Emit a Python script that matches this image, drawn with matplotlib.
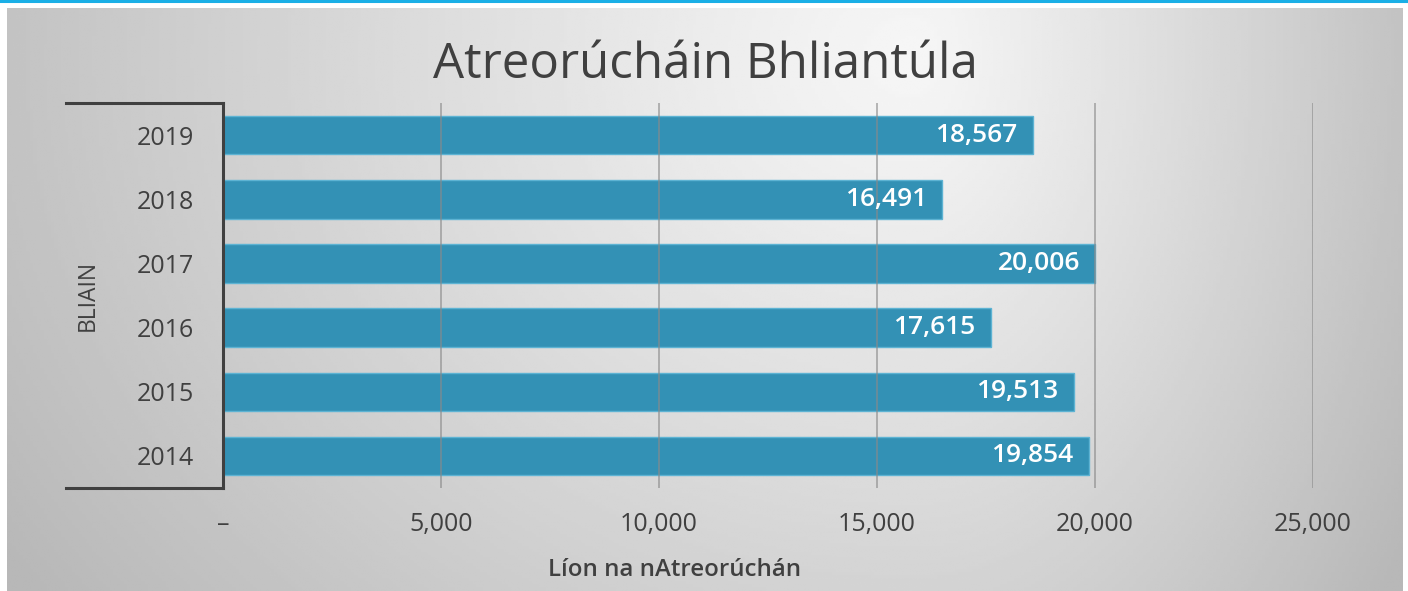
import numpy as np
import matplotlib.pyplot as plt
from matplotlib.lines import Line2D

years = ["2014", "2015", "2016", "2017", "2018", "2019"]
counts = [19854, 19513, 17615, 20006, 16491, 18567]
xticks = [0, 5000, 10000, 15000, 20000, 25000]
xticklabels = ["–", "5,000", "10,000", "15,000", "20,000", "25,000"]

plt.rcParams['font.family'] = ['Open Sans', 'DejaVu Sans']
W, H = 1408, 591
fig = plt.figure(figsize=(W / 100, H / 100), dpi=100)
fig.patch.set_facecolor("white")

### grey gradient panel behind the chart
bg = fig.add_axes([7 / W, 0, (1403 - 7) / W, (H - 8) / H])
gx, gy = np.meshgrid(np.linspace(0, 1, 400), np.linspace(0, 1, 200))
cx, cy = 0.65, 0.08
dx = np.where(gx < cx, (gx - cx) / cx, (gx - cx) / (1 - cx))
dy = (gy - cy) / 1.3
d = np.sqrt(dx ** 2 + dy ** 2)
grad = 0.965 - 0.2 * np.clip(d, 0, 1.2) ** 1.1
bg.imshow(grad, cmap="gray", vmin=0, vmax=1, aspect="auto", extent=[0, 1, 1, 0])
bg.axis("off")

# cyan strip on top
fig.add_artist(Line2D([0, 1], [1 - 1 / H, 1 - 1 / H], color="#1AAFE6", lw=2.2,
                      transform=fig.transFigure))

ax = fig.add_axes([223 / W, 1 - 488 / H, 1090 / W, 385 / H])
ax.set_facecolor("none")
y = np.arange(len(years))
ax.barh(y, counts, height=0.6, color="#3391B5", edgecolor="#5DB3D3", lw=1, zorder=2)
ax.set_xlim(0, 25000)
ax.set_ylim(-0.5, len(years) - 0.5)

for xv in xticks[1:]:
    ax.axvline(xv, color="#8a8a8a", lw=1.2, alpha=0.7, zorder=3)

for yi, v in zip(y, counts):
    ax.annotate("{:,}".format(v), (v, yi), xytext=(-11, 0), textcoords="offset points",
                ha="right", va="center", color="white", fontsize=19, fontweight="semibold",
                zorder=4)

ax.set_xticks(xticks)
ax.set_xticklabels(xticklabels)
ax.set_yticks(y)
ax.set_yticklabels(years)
ax.tick_params(axis="x", length=0, pad=17, labelsize=18, colors="#404040")
ax.tick_params(axis="y", length=0, pad=21, labelsize=18, colors="#404040")
for s in ["top", "right", "bottom"]:
    ax.spines[s].set_visible(False)
ax.spines["left"].set_color("#404040")
ax.spines["left"].set_linewidth(2.2)

# bracket lines of the category axis
for yy in (1 - 103 / H, 1 - 488 / H):
    fig.add_artist(Line2D([66 / W, 223 / W], [yy, yy], color="#404040", lw=2.2,
                          transform=fig.transFigure))

fig.text(705 / W, 1 - 65 / H, "Atreorúcháin Bhliantúla", ha="center", va="center",
         fontsize=35.5, color="#404040")
fig.text(675 / W, 1 - 570 / H, "Líon na nAtreorúchán", ha="center", va="center",
         fontsize=17.3, fontweight="semibold", color="#404040")
fig.text(88 / W, 1 - 295 / H, "BLIAIN", ha="center", va="center", rotation=90,
         fontsize=16.5, color="#404040")

fig.savefig("out.png", dpi=100)
